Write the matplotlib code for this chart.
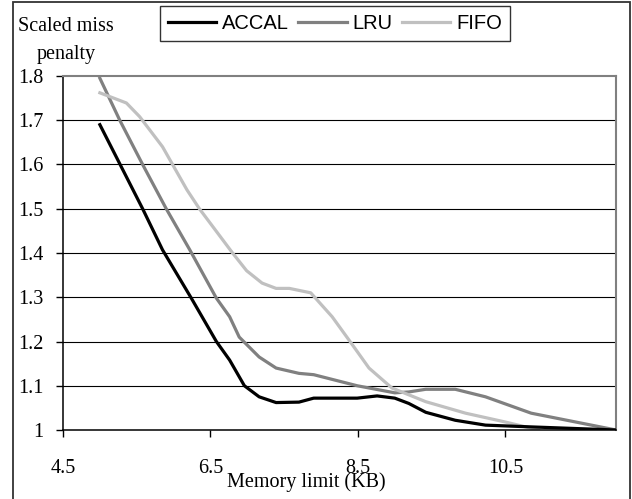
import matplotlib.pyplot as plt
from matplotlib.patches import Rectangle

# data
accal_x = [5.0, 5.58, 5.85, 6.24, 6.58, 6.76, 6.96, 7.16, 7.39, 7.7, 7.9, 8.49,
           8.76, 9.0, 9.19, 9.42, 9.82, 10.23, 10.85, 12.0]
accal_y = [1.69, 1.50, 1.407, 1.298, 1.20, 1.158, 1.10, 1.075, 1.062, 1.063, 1.072,
           1.072, 1.077, 1.072, 1.06, 1.04, 1.022, 1.011, 1.007, 1.0]

lru_x = [5.0, 5.27, 5.58, 5.9, 6.22, 6.58, 6.76, 6.89, 7.16, 7.39, 7.7, 7.9, 8.49,
         9.0, 9.19, 9.42, 9.82, 10.23, 10.85, 12.0]
lru_y = [1.795, 1.70, 1.60, 1.50, 1.407, 1.298, 1.256, 1.21, 1.165, 1.14, 1.128,
         1.125, 1.10, 1.084, 1.086, 1.092, 1.092, 1.075, 1.038, 1.0]

fifo_x = [5.0, 5.36, 5.54, 5.85, 6.18, 6.35, 6.8, 6.99, 7.2, 7.39, 7.57, 7.86, 8.15,
          8.38, 8.65, 8.96, 9.42, 9.96, 10.5, 10.95]
fifo_y = [1.762, 1.739, 1.708, 1.64, 1.543, 1.50, 1.40, 1.36, 1.332, 1.32, 1.32,
          1.31, 1.256, 1.203, 1.14, 1.095, 1.064, 1.038, 1.018, 1.0]

x_ticks = [4.5, 6.5, 8.5, 10.5]
y_ticks = [1.0, 1.1, 1.2, 1.3, 1.4, 1.5, 1.6, 1.7, 1.8]
y_labels = ['1', '1.1', '1.2', '1.3', '1.4', '1.5', '1.6', '1.7', '1.8']

W, H = 632, 499
fig = plt.figure(figsize=(W / 100, H / 100), dpi=100)
ax = fig.add_axes([63 / W, (H - 430) / H, 553 / W, 354 / H])

serif = 'Liberation Serif'
sans = 'Liberation Sans'

for yv in y_ticks[1:-1]:
    ax.axhline(yv, color='black', lw=0.8, zorder=1)

ax.plot(accal_x, accal_y, color='black', lw=2.3, label='ACCAL', zorder=3,
        solid_joinstyle='round')
ax.plot(lru_x, lru_y, color='#808080', lw=2.3, label='LRU', zorder=2,
        solid_joinstyle='round')
ax.plot(fifo_x, fifo_y, color='#c0c0c0', lw=2.3, label='FIFO', zorder=2,
        solid_joinstyle='round')

ax.set_xlim(4.5, 12.0)
ax.set_ylim(1.0, 1.8)
ax.set_xticks(x_ticks)
ax.set_xticklabels([str(v) for v in x_ticks], fontfamily=serif, fontsize=14.5)
ax.set_yticks(y_ticks)
ax.set_yticklabels(y_labels, fontfamily=serif, fontsize=14.5)
ax.tick_params(axis='x', direction='out', length=5, width=1, pad=16)
ax.tick_params(axis='y', direction='out', length=5, width=1, pad=9)

for s in ['left', 'bottom']:
    ax.spines[s].set_color('black')
    ax.spines[s].set_linewidth(1.1)
for s in ['top', 'right']:
    ax.spines[s].set_color('#808080')
    ax.spines[s].set_linewidth(1.5)

fig.text(306 / W, 1 - 487 / H, 'Memory limit (KB)', fontfamily=serif,
         fontsize=14.5, ha='center', va='baseline')
fig.text(66 / W, 1 - 59 / H, 'Scaled miss\npenalty', fontfamily=serif,
         fontsize=14.5, ha='center', va='baseline', linespacing=1.65,
         multialignment='center')

leg = ax.legend(loc='upper left', bbox_to_anchor=(160 / W, 1 - 6 / H),
                bbox_transform=fig.transFigure, ncol=3, frameon=True,
                fancybox=False, edgecolor='black', handlelength=2.4,
                handletextpad=0.3, columnspacing=0.45, borderpad=0.4,
                borderaxespad=0, prop={'family': sans, 'size': 14.5})
leg.get_frame().set_linewidth(1.0)

fig.patches.append(Rectangle((13 / W, -0.05), 617 / W, 1.05 - 2 / H,
                             transform=fig.transFigure, fill=False,
                             edgecolor='#333333', lw=1.3))

fig.savefig('out.png', dpi=100)
